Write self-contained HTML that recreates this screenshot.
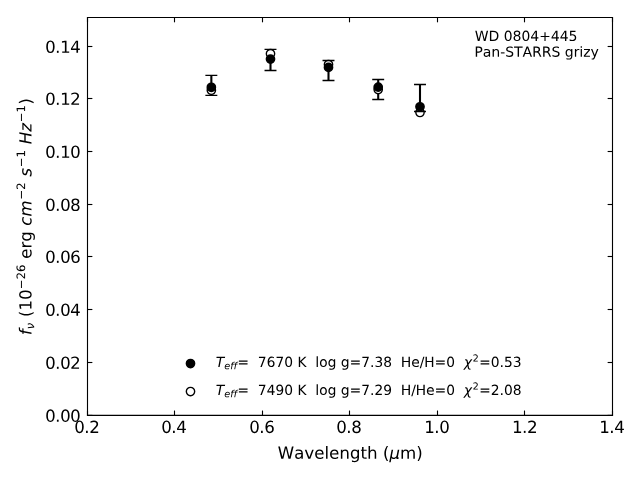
<!DOCTYPE html>
<html lang="en"><head><meta charset="utf-8"><title>WD 0804+445</title>
<style>
html,body{margin:0;padding:0;background:#fff;width:640px;height:480px;overflow:hidden;font-family:"Liberation Sans",sans-serif;}
svg{display:block;position:absolute;left:0;top:0;}
</style></head><body>
<svg width="640" height="480" viewBox="0 0 460.8 345.6" version="1.1" role="img" aria-label="WD 0804+445 Pan-STARRS grizy photometric fit"><desc>WD 0804+445. Pan-STARRS grizy. Y axis: f_nu (10^-26 erg cm^-2 s^-1 Hz^-1), ticks 0.00 0.02 0.04 0.06 0.08 0.10 0.12 0.14. X axis: Wavelength (um), ticks 0.2 0.4 0.6 0.8 1.0 1.2 1.4. Filled circles: T_eff= 7670 K log g=7.38 He/H=0 chi^2=0.53. Open circles: T_eff= 7490 K log g=7.29 H/He=0 chi^2=2.08.</desc><defs><style type="text/css">*{stroke-linejoin: round; stroke-linecap: butt}</style></defs><g id="figure_1"><g id="patch_1"><path d="M 0 345.6 L 460.8 345.6 L 460.8 0 L 0 0 z " style="fill: #ffffff"/></g><g id="axes_1"><g id="patch_2"><path d="M 63 299.088 L 441 299.088 L 441 12.564 L 63 12.564 z " style="fill: #ffffff"/></g><g id="LineCollection_1"><path d="M 152.172 68.688 L 152.172 54.288 " clip-path="url(#p7d434a46ba)" style="fill: none; stroke: #000000; stroke-width: 1.5"/><path d="M 194.76 50.76 L 194.76 35.568 " clip-path="url(#p7d434a46ba)" style="fill: none; stroke: #000000; stroke-width: 1.5"/><path d="M 236.52 57.96 L 236.52 43.56 " clip-path="url(#p7d434a46ba)" style="fill: none; stroke: #000000; stroke-width: 1.5"/><path d="M 272.304 71.64 L 272.304 57.24 " clip-path="url(#p7d434a46ba)" style="fill: none; stroke: #000000; stroke-width: 1.5"/><path d="M 302.4 80.244 L 302.4 60.84 " clip-path="url(#p7d434a46ba)" style="fill: none; stroke: #000000; stroke-width: 1.5"/></g><g id="matplotlib.axis_1"><g id="xtick_1"><g id="line2d_1"><defs><path id="m92da7aff10" d="M 0 0 L 0 -3.5 " style="stroke: #000000; stroke-width: 0.8"/></defs><g><use href="#m92da7aff10" x="63" y="299.088" style="stroke: #000000; stroke-width: 0.8"/></g></g><g id="line2d_2"><defs><path id="m1504cfccaf" d="M 0 0 L 0 3.5 " style="stroke: #000000; stroke-width: 0.8"/></defs><g><use href="#m1504cfccaf" x="63" y="12.564" style="stroke: #000000; stroke-width: 0.8"/></g></g><g id="text_1"><g transform="translate(53.4581 311.7061) scale(0.12000 -0.12000)"><defs><path id="DejaVuSans-30" d="M 2034 4250 Q 1547 4250 1301 3770 Q 1056 3291 1056 2328 Q 1056 1369 1301 889 Q 1547 409 2034 409 Q 2525 409 2770 889 Q 3016 1369 3016 2328 Q 3016 3291 2770 3770 Q 2525 4250 2034 4250 z M 2034 4750 Q 2819 4750 3233 4129 Q 3647 3509 3647 2328 Q 3647 1150 3233 529 Q 2819 -91 2034 -91 Q 1250 -91 836 529 Q 422 1150 422 2328 Q 422 3509 836 4129 Q 1250 4750 2034 4750 z " transform="scale(0.015625)"/><path id="DejaVuSans-2e" d="M 684 794 L 1344 794 L 1344 0 L 684 0 L 684 794 z " transform="scale(0.015625)"/><path id="DejaVuSans-32" d="M 1228 531 L 3431 531 L 3431 0 L 469 0 L 469 531 Q 828 903 1448 1529 Q 2069 2156 2228 2338 Q 2531 2678 2651 2914 Q 2772 3150 2772 3378 Q 2772 3750 2511 3984 Q 2250 4219 1831 4219 Q 1534 4219 1204 4116 Q 875 4013 500 3803 L 500 4441 Q 881 4594 1212 4672 Q 1544 4750 1819 4750 Q 2544 4750 2975 4387 Q 3406 4025 3406 3419 Q 3406 3131 3298 2873 Q 3191 2616 2906 2266 Q 2828 2175 2409 1742 Q 1991 1309 1228 531 z " transform="scale(0.015625)"/></defs><use href="#DejaVuSans-30"/><use href="#DejaVuSans-2e" transform="translate(59.9965 0)"/><use href="#DejaVuSans-32" transform="translate(89.9718 0)"/></g></g></g><g id="xtick_2"><g id="line2d_3"><g><use href="#m92da7aff10" x="125.64" y="299.088" style="stroke: #000000; stroke-width: 0.8"/></g></g><g id="line2d_4"><g><use href="#m1504cfccaf" x="125.64" y="12.564" style="stroke: #000000; stroke-width: 0.8"/></g></g><g id="text_2"><g transform="translate(116.0981 311.7061) scale(0.12000 -0.12000)"><defs><path id="DejaVuSans-34" d="M 2419 4116 L 825 1625 L 2419 1625 L 2419 4116 z M 2253 4666 L 3047 4666 L 3047 1625 L 3713 1625 L 3713 1100 L 3047 1100 L 3047 0 L 2419 0 L 2419 1100 L 313 1100 L 313 1709 L 2253 4666 z " transform="scale(0.015625)"/></defs><use href="#DejaVuSans-30"/><use href="#DejaVuSans-2e" transform="translate(59.9965 0)"/><use href="#DejaVuSans-34" transform="translate(89.9718 0)"/></g></g></g><g id="xtick_3"><g id="line2d_5"><g><use href="#m92da7aff10" x="189" y="299.088" style="stroke: #000000; stroke-width: 0.8"/></g></g><g id="line2d_6"><g><use href="#m1504cfccaf" x="189" y="12.564" style="stroke: #000000; stroke-width: 0.8"/></g></g><g id="text_3"><g transform="translate(179.4581 311.7061) scale(0.12000 -0.12000)"><defs><path id="DejaVuSans-36" d="M 2113 2584 Q 1688 2584 1439 2293 Q 1191 2003 1191 1497 Q 1191 994 1439 701 Q 1688 409 2113 409 Q 2538 409 2786 701 Q 3034 994 3034 1497 Q 3034 2003 2786 2293 Q 2538 2584 2113 2584 z M 3366 4563 L 3366 3988 Q 3128 4100 2886 4159 Q 2644 4219 2406 4219 Q 1781 4219 1451 3797 Q 1122 3375 1075 2522 Q 1259 2794 1537 2939 Q 1816 3084 2150 3084 Q 2853 3084 3261 2657 Q 3669 2231 3669 1497 Q 3669 778 3244 343 Q 2819 -91 2113 -91 Q 1303 -91 875 529 Q 447 1150 447 2328 Q 447 3434 972 4092 Q 1497 4750 2381 4750 Q 2619 4750 2861 4703 Q 3103 4656 3366 4563 z " transform="scale(0.015625)"/></defs><use href="#DejaVuSans-30"/><use href="#DejaVuSans-2e" transform="translate(59.9965 0)"/><use href="#DejaVuSans-36" transform="translate(89.9718 0)"/></g></g></g><g id="xtick_4"><g id="line2d_7"><g><use href="#m92da7aff10" x="251.64" y="299.088" style="stroke: #000000; stroke-width: 0.8"/></g></g><g id="line2d_8"><g><use href="#m1504cfccaf" x="251.64" y="12.564" style="stroke: #000000; stroke-width: 0.8"/></g></g><g id="text_4"><g transform="translate(242.0981 311.7061) scale(0.12000 -0.12000)"><defs><path id="DejaVuSans-38" d="M 2034 2216 Q 1584 2216 1326 1975 Q 1069 1734 1069 1313 Q 1069 891 1326 650 Q 1584 409 2034 409 Q 2484 409 2743 651 Q 3003 894 3003 1313 Q 3003 1734 2745 1975 Q 2488 2216 2034 2216 z M 1403 2484 Q 997 2584 770 2862 Q 544 3141 544 3541 Q 544 4100 942 4425 Q 1341 4750 2034 4750 Q 2731 4750 3128 4425 Q 3525 4100 3525 3541 Q 3525 3141 3298 2862 Q 3072 2584 2669 2484 Q 3125 2378 3379 2068 Q 3634 1759 3634 1313 Q 3634 634 3220 271 Q 2806 -91 2034 -91 Q 1263 -91 848 271 Q 434 634 434 1313 Q 434 1759 690 2068 Q 947 2378 1403 2484 z M 1172 3481 Q 1172 3119 1398 2916 Q 1625 2713 2034 2713 Q 2441 2713 2670 2916 Q 2900 3119 2900 3481 Q 2900 3844 2670 4047 Q 2441 4250 2034 4250 Q 1625 4250 1398 4047 Q 1172 3844 1172 3481 z " transform="scale(0.015625)"/></defs><use href="#DejaVuSans-30"/><use href="#DejaVuSans-2e" transform="translate(59.9965 0)"/><use href="#DejaVuSans-38" transform="translate(89.9718 0)"/></g></g></g><g id="xtick_5"><g id="line2d_9"><g><use href="#m92da7aff10" x="315" y="299.088" style="stroke: #000000; stroke-width: 0.8"/></g></g><g id="line2d_10"><g><use href="#m1504cfccaf" x="315" y="12.564" style="stroke: #000000; stroke-width: 0.8"/></g></g><g id="text_5"><g transform="translate(305.4581 311.7061) scale(0.12000 -0.12000)"><defs><path id="DejaVuSans-31" d="M 794 531 L 1825 531 L 1825 4091 L 703 3866 L 703 4441 L 1819 4666 L 2450 4666 L 2450 531 L 3481 531 L 3481 0 L 794 0 L 794 531 z " transform="scale(0.015625)"/></defs><use href="#DejaVuSans-31"/><use href="#DejaVuSans-2e" transform="translate(59.9965 0)"/><use href="#DejaVuSans-30" transform="translate(89.9718 0)"/></g></g></g><g id="xtick_6"><g id="line2d_11"><g><use href="#m92da7aff10" x="377.64" y="299.088" style="stroke: #000000; stroke-width: 0.8"/></g></g><g id="line2d_12"><g><use href="#m1504cfccaf" x="377.64" y="12.564" style="stroke: #000000; stroke-width: 0.8"/></g></g><g id="text_6"><g transform="translate(368.6741 311.7061) scale(0.12000 -0.12000)"><use href="#DejaVuSans-31"/><use href="#DejaVuSans-2e" transform="translate(59.9965 0)"/><use href="#DejaVuSans-32" transform="translate(89.9718 0)"/></g></g></g><g id="xtick_7"><g id="line2d_13"><g><use href="#m92da7aff10" x="441" y="299.088" style="stroke: #000000; stroke-width: 0.8"/></g></g><g id="line2d_14"><g><use href="#m1504cfccaf" x="441" y="12.564" style="stroke: #000000; stroke-width: 0.8"/></g></g><g id="text_7"><g transform="translate(431.4581 311.7061) scale(0.12000 -0.12000)"><use href="#DejaVuSans-31"/><use href="#DejaVuSans-2e" transform="translate(59.9965 0)"/><use href="#DejaVuSans-34" transform="translate(89.9718 0)"/></g></g></g></g><g id="matplotlib.axis_2"><g id="ytick_1"><g id="line2d_15"><defs><path id="m33c4ce201d" d="M 0 0 L 3.5 0 " style="stroke: #000000; stroke-width: 0.8"/></defs><g><use href="#m33c4ce201d" x="63" y="299.088" style="stroke: #000000; stroke-width: 0.8"/></g></g><g id="line2d_16"><defs><path id="m5d545ce8f8" d="M 0 0 L -3.5 0 " style="stroke: #000000; stroke-width: 0.8"/></defs><g><use href="#m5d545ce8f8" x="441" y="299.088" style="stroke: #000000; stroke-width: 0.8"/></g></g><g id="text_8"><g transform="translate(32.4933 303.6471) scale(0.12000 -0.12000)"><use href="#DejaVuSans-30"/><use href="#DejaVuSans-2e" transform="translate(59.9965 0)"/><use href="#DejaVuSans-30" transform="translate(89.9718 0)"/><use href="#DejaVuSans-30" transform="translate(149.9683 0)"/></g></g></g><g id="ytick_2"><g id="line2d_17"><g><use href="#m33c4ce201d" x="63" y="261" style="stroke: #000000; stroke-width: 0.8"/></g></g><g id="line2d_18"><g><use href="#m5d545ce8f8" x="441" y="261" style="stroke: #000000; stroke-width: 0.8"/></g></g><g id="text_9"><g transform="translate(32.4933 265.5591) scale(0.12000 -0.12000)"><use href="#DejaVuSans-30"/><use href="#DejaVuSans-2e" transform="translate(59.9965 0)"/><use href="#DejaVuSans-30" transform="translate(89.9718 0)"/><use href="#DejaVuSans-32" transform="translate(149.9683 0)"/></g></g></g><g id="ytick_3"><g id="line2d_19"><g><use href="#m33c4ce201d" x="63" y="222.84" style="stroke: #000000; stroke-width: 0.8"/></g></g><g id="line2d_20"><g><use href="#m5d545ce8f8" x="441" y="222.84" style="stroke: #000000; stroke-width: 0.8"/></g></g><g id="text_10"><g transform="translate(32.4933 227.3991) scale(0.12000 -0.12000)"><use href="#DejaVuSans-30"/><use href="#DejaVuSans-2e" transform="translate(59.9965 0)"/><use href="#DejaVuSans-30" transform="translate(89.9718 0)"/><use href="#DejaVuSans-34" transform="translate(149.9683 0)"/></g></g></g><g id="ytick_4"><g id="line2d_21"><g><use href="#m33c4ce201d" x="63" y="184.68" style="stroke: #000000; stroke-width: 0.8"/></g></g><g id="line2d_22"><g><use href="#m5d545ce8f8" x="441" y="184.68" style="stroke: #000000; stroke-width: 0.8"/></g></g><g id="text_11"><g transform="translate(32.4933 189.2391) scale(0.12000 -0.12000)"><use href="#DejaVuSans-30"/><use href="#DejaVuSans-2e" transform="translate(59.9965 0)"/><use href="#DejaVuSans-30" transform="translate(89.9718 0)"/><use href="#DejaVuSans-36" transform="translate(149.9683 0)"/></g></g></g><g id="ytick_5"><g id="line2d_23"><g><use href="#m33c4ce201d" x="63" y="147.24" style="stroke: #000000; stroke-width: 0.8"/></g></g><g id="line2d_24"><g><use href="#m5d545ce8f8" x="441" y="147.24" style="stroke: #000000; stroke-width: 0.8"/></g></g><g id="text_12"><g transform="translate(32.4933 151.7991) scale(0.12000 -0.12000)"><use href="#DejaVuSans-30"/><use href="#DejaVuSans-2e" transform="translate(59.9965 0)"/><use href="#DejaVuSans-30" transform="translate(89.9718 0)"/><use href="#DejaVuSans-38" transform="translate(149.9683 0)"/></g></g></g><g id="ytick_6"><g id="line2d_25"><g><use href="#m33c4ce201d" x="63" y="109.08" style="stroke: #000000; stroke-width: 0.8"/></g></g><g id="line2d_26"><g><use href="#m5d545ce8f8" x="441" y="109.08" style="stroke: #000000; stroke-width: 0.8"/></g></g><g id="text_13"><g transform="translate(32.4933 113.6391) scale(0.12000 -0.12000)"><use href="#DejaVuSans-30"/><use href="#DejaVuSans-2e" transform="translate(59.9965 0)"/><use href="#DejaVuSans-31" transform="translate(89.9718 0)"/><use href="#DejaVuSans-30" transform="translate(149.9683 0)"/></g></g></g><g id="ytick_7"><g id="line2d_27"><g><use href="#m33c4ce201d" x="63" y="70.92" style="stroke: #000000; stroke-width: 0.8"/></g></g><g id="line2d_28"><g><use href="#m5d545ce8f8" x="441" y="70.92" style="stroke: #000000; stroke-width: 0.8"/></g></g><g id="text_14"><g transform="translate(32.4933 75.4791) scale(0.12000 -0.12000)"><use href="#DejaVuSans-30"/><use href="#DejaVuSans-2e" transform="translate(59.9965 0)"/><use href="#DejaVuSans-31" transform="translate(89.9718 0)"/><use href="#DejaVuSans-32" transform="translate(149.9683 0)"/></g></g></g><g id="ytick_8"><g id="line2d_29"><g><use href="#m33c4ce201d" x="63" y="33.48" style="stroke: #000000; stroke-width: 0.8"/></g></g><g id="line2d_30"><g><use href="#m5d545ce8f8" x="441" y="33.48" style="stroke: #000000; stroke-width: 0.8"/></g></g><g id="text_15"><g transform="translate(32.4933 38.0391) scale(0.12000 -0.12000)"><use href="#DejaVuSans-30"/><use href="#DejaVuSans-2e" transform="translate(59.9965 0)"/><use href="#DejaVuSans-31" transform="translate(89.9718 0)"/><use href="#DejaVuSans-34" transform="translate(149.9683 0)"/></g></g></g></g><g id="line2d_31"><defs><path id="md2aca7f32a" d="M 0 3 C 0.795609 3 1.55874 2.683901 2.12132 2.12132 C 2.683901 1.55874 3 0.795609 3 0 C 3 -0.795609 2.683901 -1.55874 2.12132 -2.12132 C 1.55874 -2.683901 0.795609 -3 0 -3 C -0.795609 -3 -1.55874 -2.683901 -2.12132 -2.12132 C -2.683901 -1.55874 -3 -0.795609 -3 0 C -3 0.795609 -2.683901 1.55874 -2.12132 2.12132 C -1.55874 2.683901 -0.795609 3 0 3 z " style="stroke: #000000"/></defs><g><use href="#md2aca7f32a" x="152.172" y="64.944" style="fill: #ffffff; stroke: #000000"/><use href="#md2aca7f32a" x="194.76" y="38.664" style="fill: #ffffff; stroke: #000000"/><use href="#md2aca7f32a" x="236.52" y="46.44" style="fill: #ffffff; stroke: #000000"/><use href="#md2aca7f32a" x="272.304" y="64.512" style="fill: #ffffff; stroke: #000000"/><use href="#md2aca7f32a" x="302.4" y="81" style="fill: #ffffff; stroke: #000000"/></g></g><g id="line2d_32"><defs><path id="m0ec3d353d7" d="M 0 3 C 0.795609 3 1.55874 2.683901 2.12132 2.12132 C 2.683901 1.55874 3 0.795609 3 0 C 3 -0.795609 2.683901 -1.55874 2.12132 -2.12132 C 1.55874 -2.683901 0.795609 -3 0 -3 C -0.795609 -3 -1.55874 -2.683901 -2.12132 -2.12132 C -2.683901 -1.55874 -3 -0.795609 -3 0 C -3 0.795609 -2.683901 1.55874 -2.12132 2.12132 C -1.55874 2.683901 -0.795609 3 0 3 z " style="stroke: #000000"/></defs><g clip-path="url(#p7d434a46ba)"><use href="#m0ec3d353d7" x="137.16" y="261.756" style="stroke: #000000"/></g></g><g id="line2d_33"><g clip-path="url(#p7d434a46ba)"><use href="#md2aca7f32a" x="137.16" y="281.916" style="fill: #ffffff; stroke: #000000"/></g></g><g id="patch_3"><path d="M 63 299.088 L 63 12.564 " style="fill: none; stroke: #000000; stroke-width: 0.8; stroke-linejoin: miter; stroke-linecap: square"/></g><g id="patch_4"><path d="M 441 299.088 L 441 12.564 " style="fill: none; stroke: #000000; stroke-width: 0.8; stroke-linejoin: miter; stroke-linecap: square"/></g><g id="patch_5"><path d="M 63 299.088 L 441 299.088 " style="fill: none; stroke: #000000; stroke-width: 0.8; stroke-linejoin: miter; stroke-linecap: square"/></g><g id="patch_6"><path d="M 63 12.564 L 441 12.564 " style="fill: none; stroke: #000000; stroke-width: 0.8; stroke-linejoin: miter; stroke-linecap: square"/></g><g id="line2d_34"><g><use href="#m0ec3d353d7" x="152.172" y="62.856" style="stroke: #000000"/><use href="#m0ec3d353d7" x="194.76" y="42.552" style="stroke: #000000"/><use href="#m0ec3d353d7" x="236.52" y="48.528" style="stroke: #000000"/><use href="#m0ec3d353d7" x="272.304" y="62.712" style="stroke: #000000"/><use href="#m0ec3d353d7" x="302.4" y="76.896" style="stroke: #000000"/></g></g><g id="text_16"><g transform="translate(155.3760 264.2400) scale(0.09967 -0.10000)"><defs><path id="DejaVuSans-Oblique-54" d="M 378 4666 L 4325 4666 L 4225 4134 L 2559 4134 L 1759 0 L 1125 0 L 1925 4134 L 275 4134 L 378 4666 z " transform="scale(0.015625)"/><path id="DejaVuSans-Oblique-65" d="M 3078 2063 Q 3088 2113 3092 2166 Q 3097 2219 3097 2272 Q 3097 2653 2873 2875 Q 2650 3097 2266 3097 Q 1838 3097 1509 2826 Q 1181 2556 1013 2059 L 3078 2063 z M 3578 1613 L 903 1613 Q 884 1494 878 1425 Q 872 1356 872 1306 Q 872 872 1139 634 Q 1406 397 1894 397 Q 2269 397 2603 481 Q 2938 566 3225 728 L 3116 159 Q 2806 34 2476 -28 Q 2147 -91 1806 -91 Q 1078 -91 686 257 Q 294 606 294 1247 Q 294 1794 489 2264 Q 684 2734 1063 3103 Q 1306 3334 1642 3459 Q 1978 3584 2356 3584 Q 2950 3584 3301 3228 Q 3653 2872 3653 2272 Q 3653 2128 3634 1964 Q 3616 1800 3578 1613 z " transform="scale(0.015625)"/><path id="DejaVuSans-Oblique-66" d="M 3059 4863 L 2969 4384 L 2419 4384 Q 2106 4384 1964 4261 Q 1822 4138 1753 3809 L 1691 3500 L 2638 3500 L 2553 3053 L 1606 3053 L 1013 0 L 434 0 L 1031 3053 L 481 3053 L 563 3500 L 1113 3500 L 1159 3744 Q 1278 4363 1576 4613 Q 1875 4863 2516 4863 L 3059 4863 z " transform="scale(0.015625)"/><path id="DejaVuSans-3d" d="M 678 2906 L 4684 2906 L 4684 2381 L 678 2381 L 678 2906 z M 678 1631 L 4684 1631 L 4684 1100 L 678 1100 L 678 1631 z " transform="scale(0.015625)"/><path id="DejaVuSans-20" transform="scale(0.015625)"/><path id="DejaVuSans-37" d="M 525 4666 L 3525 4666 L 3525 4397 L 1831 0 L 1172 0 L 2766 4134 L 525 4134 L 525 4666 z " transform="scale(0.015625)"/><path id="DejaVuSans-4b" d="M 628 4666 L 1259 4666 L 1259 2694 L 3353 4666 L 4166 4666 L 1850 2491 L 4331 0 L 3500 0 L 1259 2247 L 1259 0 L 628 0 L 628 4666 z " transform="scale(0.015625)"/><path id="DejaVuSans-6c" d="M 603 4863 L 1178 4863 L 1178 0 L 603 0 L 603 4863 z " transform="scale(0.015625)"/><path id="DejaVuSans-6f" d="M 1959 3097 Q 1497 3097 1228 2736 Q 959 2375 959 1747 Q 959 1119 1226 758 Q 1494 397 1959 397 Q 2419 397 2687 759 Q 2956 1122 2956 1747 Q 2956 2369 2687 2733 Q 2419 3097 1959 3097 z M 1959 3584 Q 2709 3584 3137 3096 Q 3566 2609 3566 1747 Q 3566 888 3137 398 Q 2709 -91 1959 -91 Q 1206 -91 779 398 Q 353 888 353 1747 Q 353 2609 779 3096 Q 1206 3584 1959 3584 z " transform="scale(0.015625)"/><path id="DejaVuSans-67" d="M 2906 1791 Q 2906 2416 2648 2759 Q 2391 3103 1925 3103 Q 1463 3103 1205 2759 Q 947 2416 947 1791 Q 947 1169 1205 825 Q 1463 481 1925 481 Q 2391 481 2648 825 Q 2906 1169 2906 1791 z M 3481 434 Q 3481 -459 3084 -895 Q 2688 -1331 1869 -1331 Q 1566 -1331 1297 -1286 Q 1028 -1241 775 -1147 L 775 -588 Q 1028 -725 1275 -790 Q 1522 -856 1778 -856 Q 2344 -856 2625 -561 Q 2906 -266 2906 331 L 2906 616 Q 2728 306 2450 153 Q 2172 0 1784 0 Q 1141 0 747 490 Q 353 981 353 1791 Q 353 2603 747 3093 Q 1141 3584 1784 3584 Q 2172 3584 2450 3431 Q 2728 3278 2906 2969 L 2906 3500 L 3481 3500 L 3481 434 z " transform="scale(0.015625)"/><path id="DejaVuSans-33" d="M 2597 2516 Q 3050 2419 3304 2112 Q 3559 1806 3559 1356 Q 3559 666 3084 287 Q 2609 -91 1734 -91 Q 1441 -91 1130 -33 Q 819 25 488 141 L 488 750 Q 750 597 1062 519 Q 1375 441 1716 441 Q 2309 441 2620 675 Q 2931 909 2931 1356 Q 2931 1769 2642 2001 Q 2353 2234 1838 2234 L 1294 2234 L 1294 2753 L 1863 2753 Q 2328 2753 2575 2939 Q 2822 3125 2822 3475 Q 2822 3834 2567 4026 Q 2313 4219 1838 4219 Q 1578 4219 1281 4162 Q 984 4106 628 3988 L 628 4550 Q 988 4650 1302 4700 Q 1616 4750 1894 4750 Q 2613 4750 3031 4423 Q 3450 4097 3450 3541 Q 3450 3153 3228 2886 Q 3006 2619 2597 2516 z " transform="scale(0.015625)"/><path id="DejaVuSans-48" d="M 628 4666 L 1259 4666 L 1259 2753 L 3553 2753 L 3553 4666 L 4184 4666 L 4184 0 L 3553 0 L 3553 2222 L 1259 2222 L 1259 0 L 628 0 L 628 4666 z " transform="scale(0.015625)"/><path id="DejaVuSans-65" d="M 3597 1894 L 3597 1613 L 953 1613 Q 991 1019 1311 708 Q 1631 397 2203 397 Q 2534 397 2845 478 Q 3156 559 3463 722 L 3463 178 Q 3153 47 2828 -22 Q 2503 -91 2169 -91 Q 1331 -91 842 396 Q 353 884 353 1716 Q 353 2575 817 3079 Q 1281 3584 2069 3584 Q 2775 3584 3186 3129 Q 3597 2675 3597 1894 z M 3022 2063 Q 3016 2534 2758 2815 Q 2500 3097 2075 3097 Q 1594 3097 1305 2825 Q 1016 2553 972 2059 L 3022 2063 z " transform="scale(0.015625)"/><path id="DejaVuSans-2f" d="M 1625 4666 L 2156 4666 L 531 -594 L 0 -594 L 1625 4666 z " transform="scale(0.015625)"/><path id="DejaVuSans-Oblique-3c7" d="M 1922 -781 L 1691 416 L 394 -1334 L -284 -1334 L 1553 1141 L 1269 2613 Q 1194 3006 713 3006 L 559 3006 L 653 3500 L 872 3494 Q 1675 3472 1775 2950 L 2006 1753 L 3303 3503 L 3981 3503 L 2144 1028 L 2428 -444 Q 2503 -838 2984 -838 L 3138 -838 L 3044 -1331 L 2825 -1325 Q 2022 -1303 1922 -781 z " transform="scale(0.015625)"/><path id="DejaVuSans-35" d="M 691 4666 L 3169 4666 L 3169 4134 L 1269 4134 L 1269 2991 Q 1406 3038 1543 3061 Q 1681 3084 1819 3084 Q 2600 3084 3056 2656 Q 3513 2228 3513 1497 Q 3513 744 3044 326 Q 2575 -91 1722 -91 Q 1428 -91 1123 -41 Q 819 9 494 109 L 494 744 Q 775 591 1075 516 Q 1375 441 1709 441 Q 2250 441 2565 725 Q 2881 1009 2881 1497 Q 2881 1984 2565 2268 Q 2250 2553 1709 2553 Q 1456 2553 1204 2497 Q 953 2441 691 2322 L 691 4666 z " transform="scale(0.015625)"/></defs><use href="#DejaVuSans-Oblique-54" transform="translate(0 0.765625)"/><use href="#DejaVuSans-Oblique-65" transform="translate(61.083984 -15.640625) scale(0.7)"/><use href="#DejaVuSans-Oblique-66" transform="translate(104.150391 -15.640625) scale(0.7)"/><use href="#DejaVuSans-Oblique-66" transform="translate(128.793945 -15.640625) scale(0.7)"/><use href="#DejaVuSans-3d" transform="translate(156.171875 0.765625)"/><use href="#DejaVuSans-20" transform="translate(239.960938 0.765625)"/><use href="#DejaVuSans-20" transform="translate(271.748047 0.765625)"/><use href="#DejaVuSans-37" transform="translate(303.535156 0.765625)"/><use href="#DejaVuSans-36" transform="translate(367.158203 0.765625)"/><use href="#DejaVuSans-37" transform="translate(430.78125 0.765625)"/><use href="#DejaVuSans-30" transform="translate(494.404297 0.765625)"/><use href="#DejaVuSans-20" transform="translate(558.027344 0.765625)"/><use href="#DejaVuSans-4b" transform="translate(589.814453 0.765625)"/><use href="#DejaVuSans-20" transform="translate(655.390625 0.765625)"/><use href="#DejaVuSans-20" transform="translate(687.177734 0.765625)"/><use href="#DejaVuSans-6c" transform="translate(718.964844 0.765625)"/><use href="#DejaVuSans-6f" transform="translate(746.748047 0.765625)"/><use href="#DejaVuSans-67" transform="translate(807.929688 0.765625)"/><use href="#DejaVuSans-20" transform="translate(871.40625 0.765625)"/><use href="#DejaVuSans-67" transform="translate(903.193359 0.765625)"/><use href="#DejaVuSans-3d" transform="translate(966.669922 0.765625)"/><use href="#DejaVuSans-37" transform="translate(1050.458984 0.765625)"/><use href="#DejaVuSans-2e" transform="translate(1114.082031 0.765625)"/><use href="#DejaVuSans-33" transform="translate(1145.869141 0.765625)"/><use href="#DejaVuSans-38" transform="translate(1209.492188 0.765625)"/><use href="#DejaVuSans-20" transform="translate(1273.115234 0.765625)"/><use href="#DejaVuSans-20" transform="translate(1304.902344 0.765625)"/><use href="#DejaVuSans-48" transform="translate(1336.689453 0.765625)"/><use href="#DejaVuSans-65" transform="translate(1411.884766 0.765625)"/><use href="#DejaVuSans-2f" transform="translate(1473.408203 0.765625)"/><use href="#DejaVuSans-48" transform="translate(1505.349609 0.765625)"/><use href="#DejaVuSans-3d" transform="translate(1580.544922 0.765625)"/><use href="#DejaVuSans-30" transform="translate(1664.333984 0.765625)"/><use href="#DejaVuSans-20" transform="translate(1727.957031 0.765625)"/><use href="#DejaVuSans-20" transform="translate(1759.744141 0.765625)"/><use href="#DejaVuSans-Oblique-3c7" transform="translate(1791.53125 0.765625)"/><use href="#DejaVuSans-32" transform="translate(1855.183646 39.046875) scale(0.7)"/><use href="#DejaVuSans-3d" transform="translate(1902.454154 0.765625)"/><use href="#DejaVuSans-30" transform="translate(1986.243216 0.765625)"/><use href="#DejaVuSans-2e" transform="translate(2049.866263 0.765625)"/><use href="#DejaVuSans-35" transform="translate(2081.653372 0.765625)"/><use href="#DejaVuSans-33" transform="translate(2145.276419 0.765625)"/></g></g><g id="text_17"><g transform="translate(155.3760 284.4000) scale(0.09967 -0.10000)"><defs><path id="DejaVuSans-39" d="M 703 97 L 703 672 Q 941 559 1184 500 Q 1428 441 1663 441 Q 2288 441 2617 861 Q 2947 1281 2994 2138 Q 2813 1869 2534 1725 Q 2256 1581 1919 1581 Q 1219 1581 811 2004 Q 403 2428 403 3163 Q 403 3881 828 4315 Q 1253 4750 1959 4750 Q 2769 4750 3195 4129 Q 3622 3509 3622 2328 Q 3622 1225 3098 567 Q 2575 -91 1691 -91 Q 1453 -91 1209 -44 Q 966 3 703 97 z M 1959 2075 Q 2384 2075 2632 2365 Q 2881 2656 2881 3163 Q 2881 3666 2632 3958 Q 2384 4250 1959 4250 Q 1534 4250 1286 3958 Q 1038 3666 1038 3163 Q 1038 2656 1286 2365 Q 1534 2075 1959 2075 z " transform="scale(0.015625)"/></defs><use href="#DejaVuSans-Oblique-54" transform="translate(0.0000 0.765625)"/><use href="#DejaVuSans-Oblique-65" transform="translate(61.0840 -15.640625) scale(0.7)"/><use href="#DejaVuSans-Oblique-66" transform="translate(104.1504 -15.640625) scale(0.7)"/><use href="#DejaVuSans-Oblique-66" transform="translate(128.7939 -15.640625) scale(0.7)"/><use href="#DejaVuSans-3d" transform="translate(156.1719 0.765625)"/><use href="#DejaVuSans-20" transform="translate(239.9609 0.765625)"/><use href="#DejaVuSans-20" transform="translate(271.7480 0.765625)"/><use href="#DejaVuSans-37" transform="translate(303.5352 0.765625)"/><use href="#DejaVuSans-34" transform="translate(367.1582 0.765625)"/><use href="#DejaVuSans-39" transform="translate(430.7812 0.765625)"/><use href="#DejaVuSans-30" transform="translate(494.4043 0.765625)"/><use href="#DejaVuSans-20" transform="translate(558.0273 0.765625)"/><use href="#DejaVuSans-4b" transform="translate(589.8145 0.765625)"/><use href="#DejaVuSans-20" transform="translate(655.3906 0.765625)"/><use href="#DejaVuSans-20" transform="translate(687.1777 0.765625)"/><use href="#DejaVuSans-6c" transform="translate(718.9648 0.765625)"/><use href="#DejaVuSans-6f" transform="translate(746.7480 0.765625)"/><use href="#DejaVuSans-67" transform="translate(807.9297 0.765625)"/><use href="#DejaVuSans-20" transform="translate(871.4062 0.765625)"/><use href="#DejaVuSans-67" transform="translate(903.1934 0.765625)"/><use href="#DejaVuSans-3d" transform="translate(966.6699 0.765625)"/><use href="#DejaVuSans-37" transform="translate(1050.4590 0.765625)"/><use href="#DejaVuSans-2e" transform="translate(1114.0820 0.765625)"/><use href="#DejaVuSans-32" transform="translate(1145.8691 0.765625)"/><use href="#DejaVuSans-39" transform="translate(1209.5422 0.765625)"/><use href="#DejaVuSans-20" transform="translate(1273.1652 0.765625)"/><use href="#DejaVuSans-20" transform="translate(1304.9523 0.765625)"/><use href="#DejaVuSans-48" transform="translate(1336.7395 0.765625)"/><use href="#DejaVuSans-2f" transform="translate(1411.9348 0.765625)"/><use href="#DejaVuSans-48" transform="translate(1443.8762 0.765625)"/><use href="#DejaVuSans-65" transform="translate(1519.0715 0.765625)"/><use href="#DejaVuSans-3d" transform="translate(1580.5949 0.765625)"/><use href="#DejaVuSans-30" transform="translate(1664.3840 0.765625)"/><use href="#DejaVuSans-20" transform="translate(1728.0070 0.765625)"/><use href="#DejaVuSans-20" transform="translate(1759.7941 0.765625)"/><use href="#DejaVuSans-Oblique-3c7" transform="translate(1791.5812 0.765625)"/><use href="#DejaVuSans-32" transform="translate(1855.2336 39.046875) scale(0.7)"/><use href="#DejaVuSans-3d" transform="translate(1902.5042 0.765625)"/><use href="#DejaVuSans-32" transform="translate(1986.2932 0.765625)"/><use href="#DejaVuSans-2e" transform="translate(2049.9163 0.765625)"/><use href="#DejaVuSans-30" transform="translate(2081.7034 0.765625)"/><use href="#DejaVuSans-38" transform="translate(2145.3264 0.765625)"/></g></g><g id="text_18"><g transform="translate(341.8560 29.4480) scale(0.10030 -0.10000)"><defs><path id="DejaVuSans-57" d="M 213 4666 L 850 4666 L 1831 722 L 2809 4666 L 3519 4666 L 4500 722 L 5478 4666 L 6119 4666 L 4947 0 L 4153 0 L 3169 4050 L 2175 0 L 1381 0 L 213 4666 z " transform="scale(0.015625)"/><path id="DejaVuSans-44" d="M 1259 4147 L 1259 519 L 2022 519 Q 2988 519 3436 956 Q 3884 1394 3884 2338 Q 3884 3275 3436 3711 Q 2988 4147 2022 4147 L 1259 4147 z M 628 4666 L 1925 4666 Q 3281 4666 3915 4102 Q 4550 3538 4550 2338 Q 4550 1131 3912 565 Q 3275 0 1925 0 L 628 0 L 628 4666 z " transform="scale(0.015625)"/><path id="DejaVuSans-2b" d="M 2944 4013 L 2944 2272 L 4684 2272 L 4684 1741 L 2944 1741 L 2944 0 L 2419 0 L 2419 1741 L 678 1741 L 678 2272 L 2419 2272 L 2419 4013 L 2944 4013 z " transform="scale(0.015625)"/></defs><use href="#DejaVuSans-57"/><use href="#DejaVuSans-44" transform="translate(98.876953 0)"/><use href="#DejaVuSans-20" transform="translate(175.878906 0)"/><use href="#DejaVuSans-30" transform="translate(207.666016 0)"/><use href="#DejaVuSans-38" transform="translate(271.289062 0)"/><use href="#DejaVuSans-30" transform="translate(334.912109 0)"/><use href="#DejaVuSans-34" transform="translate(398.535156 0)"/><use href="#DejaVuSans-2b" transform="translate(462.158203 0)"/><use href="#DejaVuSans-34" transform="translate(545.947266 0)"/><use href="#DejaVuSans-34" transform="translate(609.570312 0)"/><use href="#DejaVuSans-35" transform="translate(673.193359 0)"/></g></g><g id="text_19"><g transform="translate(341.5680 40.8240) scale(0.10040 -0.10000)"><defs><path id="DejaVuSans-50" d="M 1259 4147 L 1259 2394 L 2053 2394 Q 2494 2394 2734 2622 Q 2975 2850 2975 3272 Q 2975 3691 2734 3919 Q 2494 4147 2053 4147 L 1259 4147 z M 628 4666 L 2053 4666 Q 2838 4666 3239 4311 Q 3641 3956 3641 3272 Q 3641 2581 3239 2228 Q 2838 1875 2053 1875 L 1259 1875 L 1259 0 L 628 0 L 628 4666 z " transform="scale(0.015625)"/><path id="DejaVuSans-61" d="M 2194 1759 Q 1497 1759 1228 1600 Q 959 1441 959 1056 Q 959 750 1161 570 Q 1363 391 1709 391 Q 2188 391 2477 730 Q 2766 1069 2766 1631 L 2766 1759 L 2194 1759 z M 3341 1997 L 3341 0 L 2766 0 L 2766 531 Q 2569 213 2275 61 Q 1981 -91 1556 -91 Q 1019 -91 701 211 Q 384 513 384 1019 Q 384 1609 779 1909 Q 1175 2209 1959 2209 L 2766 2209 L 2766 2266 Q 2766 2663 2505 2880 Q 2244 3097 1772 3097 Q 1472 3097 1187 3025 Q 903 2953 641 2809 L 641 3341 Q 956 3463 1253 3523 Q 1550 3584 1831 3584 Q 2591 3584 2966 3190 Q 3341 2797 3341 1997 z " transform="scale(0.015625)"/><path id="DejaVuSans-6e" d="M 3513 2113 L 3513 0 L 2938 0 L 2938 2094 Q 2938 2591 2744 2837 Q 2550 3084 2163 3084 Q 1697 3084 1428 2787 Q 1159 2491 1159 1978 L 1159 0 L 581 0 L 581 3500 L 1159 3500 L 1159 2956 Q 1366 3272 1645 3428 Q 1925 3584 2291 3584 Q 2894 3584 3203 3211 Q 3513 2838 3513 2113 z " transform="scale(0.015625)"/><path id="DejaVuSans-2d" d="M 313 2009 L 1997 2009 L 1997 1497 L 313 1497 L 313 2009 z " transform="scale(0.015625)"/><path id="DejaVuSans-53" d="M 3425 4513 L 3425 3897 Q 3066 4069 2747 4153 Q 2428 4238 2131 4238 Q 1616 4238 1336 4038 Q 1056 3838 1056 3469 Q 1056 3159 1242 3001 Q 1428 2844 1947 2747 L 2328 2669 Q 3034 2534 3370 2195 Q 3706 1856 3706 1288 Q 3706 609 3251 259 Q 2797 -91 1919 -91 Q 1588 -91 1214 -16 Q 841 59 441 206 L 441 856 Q 825 641 1194 531 Q 1563 422 1919 422 Q 2459 422 2753 634 Q 3047 847 3047 1241 Q 3047 1584 2836 1778 Q 2625 1972 2144 2069 L 1759 2144 Q 1053 2284 737 2584 Q 422 2884 422 3419 Q 422 4038 858 4394 Q 1294 4750 2059 4750 Q 2388 4750 2728 4690 Q 3069 4631 3425 4513 z " transform="scale(0.015625)"/><path id="DejaVuSans-54" d="M -19 4666 L 3928 4666 L 3928 4134 L 2272 4134 L 2272 0 L 1638 0 L 1638 4134 L -19 4134 L -19 4666 z " transform="scale(0.015625)"/><path id="DejaVuSans-41" d="M 2188 4044 L 1331 1722 L 3047 1722 L 2188 4044 z M 1831 4666 L 2547 4666 L 4325 0 L 3669 0 L 3244 1197 L 1141 1197 L 716 0 L 50 0 L 1831 4666 z " transform="scale(0.015625)"/><path id="DejaVuSans-52" d="M 2841 2188 Q 3044 2119 3236 1894 Q 3428 1669 3622 1275 L 4263 0 L 3584 0 L 2988 1197 Q 2756 1666 2539 1819 Q 2322 1972 1947 1972 L 1259 1972 L 1259 0 L 628 0 L 628 4666 L 2053 4666 Q 2853 4666 3247 4331 Q 3641 3997 3641 3322 Q 3641 2881 3436 2590 Q 3231 2300 2841 2188 z M 1259 4147 L 1259 2491 L 2053 2491 Q 2509 2491 2742 2702 Q 2975 2913 2975 3322 Q 2975 3731 2742 3939 Q 2509 4147 2053 4147 L 1259 4147 z " transform="scale(0.015625)"/><path id="DejaVuSans-72" d="M 2631 2963 Q 2534 3019 2420 3045 Q 2306 3072 2169 3072 Q 1681 3072 1420 2755 Q 1159 2438 1159 1844 L 1159 0 L 581 0 L 581 3500 L 1159 3500 L 1159 2956 Q 1341 3275 1631 3429 Q 1922 3584 2338 3584 Q 2397 3584 2469 3576 Q 2541 3569 2628 3553 L 2631 2963 z " transform="scale(0.015625)"/><path id="DejaVuSans-69" d="M 603 3500 L 1178 3500 L 1178 0 L 603 0 L 603 3500 z M 603 4863 L 1178 4863 L 1178 4134 L 603 4134 L 603 4863 z " transform="scale(0.015625)"/><path id="DejaVuSans-7a" d="M 353 3500 L 3084 3500 L 3084 2975 L 922 459 L 3084 459 L 3084 0 L 275 0 L 275 525 L 2438 3041 L 353 3041 L 353 3500 z " transform="scale(0.015625)"/><path id="DejaVuSans-79" d="M 2059 -325 Q 1816 -950 1584 -1140 Q 1353 -1331 966 -1331 L 506 -1331 L 506 -850 L 844 -850 Q 1081 -850 1212 -737 Q 1344 -625 1503 -206 L 1606 56 L 191 3500 L 800 3500 L 1894 763 L 2988 3500 L 3597 3500 L 2059 -325 z " transform="scale(0.015625)"/></defs><use href="#DejaVuSans-50"/><use href="#DejaVuSans-61" transform="translate(60.3027 0)"/><use href="#DejaVuSans-6e" transform="translate(121.5820 0)"/><use href="#DejaVuSans-2d" transform="translate(184.9609 0)"/><use href="#DejaVuSans-53" transform="translate(221.0449 0)"/><use href="#DejaVuSans-54" transform="translate(284.5215 0)"/><use href="#DejaVuSans-41" transform="translate(345.5555 0)"/><use href="#DejaVuSans-52" transform="translate(413.9637 0)"/><use href="#DejaVuSans-52" transform="translate(483.4461 0)"/><use href="#DejaVuSans-53" transform="translate(552.9285 0)"/><use href="#DejaVuSans-20" transform="translate(616.4051 0)"/><use href="#DejaVuSans-67" transform="translate(648.1922 0)"/><use href="#DejaVuSans-72" transform="translate(711.6688 0)"/><use href="#DejaVuSans-69" transform="translate(752.7820 0)"/><use href="#DejaVuSans-7a" transform="translate(780.5652 0)"/><use href="#DejaVuSans-79" transform="translate(833.0555 0)"/></g></g><g id="line2d_35"><defs><path id="ma2e25c7f9a" d="M 4.3 0 L -4.3 -0 " style="stroke: #000000"/></defs><g clip-path="url(#p7d434a46ba)"><use href="#ma2e25c7f9a" x="152.172" y="54.288" style="stroke: #000000"/><use href="#ma2e25c7f9a" x="194.76" y="35.568" style="stroke: #000000"/><use href="#ma2e25c7f9a" x="236.52" y="43.56" style="stroke: #000000"/><use href="#ma2e25c7f9a" x="272.304" y="57.24" style="stroke: #000000"/><use href="#ma2e25c7f9a" x="302.4" y="60.84" style="stroke: #000000"/></g></g><g id="line2d_36"><g clip-path="url(#p7d434a46ba)"><use href="#ma2e25c7f9a" x="152.172" y="68.688" style="stroke: #000000"/><use href="#ma2e25c7f9a" x="194.76" y="50.76" style="stroke: #000000"/><use href="#ma2e25c7f9a" x="236.52" y="57.96" style="stroke: #000000"/><use href="#ma2e25c7f9a" x="272.304" y="71.64" style="stroke: #000000"/><use href="#ma2e25c7f9a" x="302.4" y="80.244" style="stroke: #000000"/></g></g></g><g id="text_20"><g transform="translate(199.9200 330.3000) scale(0.12000 -0.12000)"><defs><path id="DejaVuSans-76" d="M 191 3500 L 800 3500 L 1894 563 L 2988 3500 L 3597 3500 L 2284 0 L 1503 0 L 191 3500 z " transform="scale(0.015625)"/><path id="DejaVuSans-74" d="M 1172 4494 L 1172 3500 L 2356 3500 L 2356 3053 L 1172 3053 L 1172 1153 Q 1172 725 1289 603 Q 1406 481 1766 481 L 2356 481 L 2356 0 L 1766 0 Q 1100 0 847 248 Q 594 497 594 1153 L 594 3053 L 172 3053 L 172 3500 L 594 3500 L 594 4494 L 1172 4494 z " transform="scale(0.015625)"/><path id="DejaVuSans-68" d="M 3513 2113 L 3513 0 L 2938 0 L 2938 2094 Q 2938 2591 2744 2837 Q 2550 3084 2163 3084 Q 1697 3084 1428 2787 Q 1159 2491 1159 1978 L 1159 0 L 581 0 L 581 4863 L 1159 4863 L 1159 2956 Q 1366 3272 1645 3428 Q 1925 3584 2291 3584 Q 2894 3584 3203 3211 Q 3513 2838 3513 2113 z " transform="scale(0.015625)"/><path id="DejaVuSans-28" d="M 1984 4856 Q 1566 4138 1362 3434 Q 1159 2731 1159 2009 Q 1159 1288 1364 580 Q 1569 -128 1984 -844 L 1484 -844 Q 1016 -109 783 600 Q 550 1309 550 2009 Q 550 2706 781 3412 Q 1013 4119 1484 4856 L 1984 4856 z " transform="scale(0.015625)"/><path id="DejaVuSans-Oblique-3bc" d="M -84 -1331 L 856 3500 L 1434 3500 L 1009 1322 Q 997 1256 987 1175 Q 978 1094 978 1013 Q 978 722 1161 565 Q 1344 409 1684 409 Q 2147 409 2431 671 Q 2716 934 2816 1459 L 3213 3500 L 3788 3500 L 3266 809 Q 3253 750 3248 706 Q 3244 663 3244 628 Q 3244 531 3283 486 Q 3322 441 3406 441 Q 3438 441 3492 456 Q 3547 472 3647 513 L 3559 50 Q 3422 -19 3297 -55 Q 3172 -91 3053 -91 Q 2847 -91 2730 40 Q 2613 172 2613 403 Q 2438 153 2195 31 Q 1953 -91 1625 -91 Q 1334 -91 1117 43 Q 900 178 831 397 L 494 -1331 L -84 -1331 z " transform="scale(0.015625)"/><path id="DejaVuSans-6d" d="M 3328 2828 Q 3544 3216 3844 3400 Q 4144 3584 4550 3584 Q 5097 3584 5394 3201 Q 5691 2819 5691 2113 L 5691 0 L 5113 0 L 5113 2094 Q 5113 2597 4934 2840 Q 4756 3084 4391 3084 Q 3944 3084 3684 2787 Q 3425 2491 3425 1978 L 3425 0 L 2847 0 L 2847 2094 Q 2847 2600 2669 2842 Q 2491 3084 2119 3084 Q 1678 3084 1418 2786 Q 1159 2488 1159 1978 L 1159 0 L 581 0 L 581 3500 L 1159 3500 L 1159 2956 Q 1356 3278 1631 3431 Q 1906 3584 2284 3584 Q 2666 3584 2933 3390 Q 3200 3197 3328 2828 z " transform="scale(0.015625)"/><path id="DejaVuSans-29" d="M 513 4856 L 1013 4856 Q 1481 4119 1714 3412 Q 1947 2706 1947 2009 Q 1947 1309 1714 600 Q 1481 -109 1013 -844 L 513 -844 Q 928 -128 1133 580 Q 1338 1288 1338 2009 Q 1338 2731 1133 3434 Q 928 4138 513 4856 z " transform="scale(0.015625)"/></defs><use href="#DejaVuSans-57" transform="translate(0 0.015625)"/><use href="#DejaVuSans-61" transform="translate(98.876953 0.015625)"/><use href="#DejaVuSans-76" transform="translate(160.15625 0.015625)"/><use href="#DejaVuSans-65" transform="translate(219.335938 0.015625)"/><use href="#DejaVuSans-6c" transform="translate(280.859375 0.015625)"/><use href="#DejaVuSans-65" transform="translate(308.642578 0.015625)"/><use href="#DejaVuSans-6e" transform="translate(370.166016 0.015625)"/><use href="#DejaVuSans-67" transform="translate(433.544922 0.015625)"/><use href="#DejaVuSans-74" transform="translate(497.021484 0.015625)"/><use href="#DejaVuSans-68" transform="translate(536.230469 0.015625)"/><use href="#DejaVuSans-20" transform="translate(599.609375 0.015625)"/><use href="#DejaVuSans-28" transform="translate(631.396484 0.015625)"/><use href="#DejaVuSans-Oblique-3bc" transform="translate(670.410156 0.015625)"/><use href="#DejaVuSans-6d" transform="translate(734.033203 0.015625)"/><use href="#DejaVuSans-29" transform="translate(831.445312 0.015625)"/></g></g><g id="text_21"><g transform="translate(22.7520 241.3320) rotate(-90) scale(0.12000 -0.12000)"><defs><path id="DejaVuSans-Oblique-3bd" d="M 959 0 L 572 3500 L 1191 3500 L 1522 563 Q 1972 950 2391 1488 Q 2706 1891 2788 2241 Q 2825 2406 2809 2719 Q 2794 3091 2544 3500 L 3125 3500 L 3125 3500 Q 3288 3222 3353 2834 Q 3416 2478 3369 2234 Q 3250 1622 2719 1075 Q 2025 363 1572 0 L 959 0 z " transform="scale(0.015625)"/><path id="DejaVuSans-2212" d="M 678 2272 L 4684 2272 L 4684 1741 L 678 1741 L 678 2272 z " transform="scale(0.015625)"/><path id="DejaVuSans-Oblique-63" d="M 3431 3366 L 3316 2797 Q 3109 2947 2876 3022 Q 2644 3097 2394 3097 Q 2119 3097 1870 3000 Q 1622 2903 1453 2725 Q 1184 2453 1037 2087 Q 891 1722 891 1331 Q 891 859 1127 628 Q 1363 397 1844 397 Q 2081 397 2348 469 Q 2616 541 2906 684 L 2797 116 Q 2547 13 2283 -39 Q 2019 -91 1741 -91 Q 1044 -91 669 257 Q 294 606 294 1253 Q 294 1797 489 2255 Q 684 2713 1069 3078 Q 1331 3328 1684 3456 Q 2038 3584 2456 3584 Q 2700 3584 2940 3529 Q 3181 3475 3431 3366 z " transform="scale(0.015625)"/><path id="DejaVuSans-Oblique-6d" d="M 5747 2113 L 5338 0 L 4763 0 L 5166 2094 Q 5191 2228 5203 2325 Q 5216 2422 5216 2491 Q 5216 2772 5059 2928 Q 4903 3084 4622 3084 Q 4203 3084 3875 2770 Q 3547 2456 3450 1953 L 3066 0 L 2491 0 L 2900 2094 Q 2925 2209 2937 2307 Q 2950 2406 2950 2484 Q 2950 2769 2794 2926 Q 2638 3084 2363 3084 Q 1938 3084 1609 2770 Q 1281 2456 1184 1953 L 800 0 L 225 0 L 909 3500 L 1484 3500 L 1375 2956 Q 1609 3263 1923 3423 Q 2238 3584 2597 3584 Q 2978 3584 3223 3384 Q 3469 3184 3519 2828 Q 3781 3197 4126 3390 Q 4472 3584 4856 3584 Q 5306 3584 5551 3325 Q 5797 3066 5797 2591 Q 5797 2488 5784 2364 Q 5772 2241 5747 2113 z " transform="scale(0.015625)"/><path id="DejaVuSans-Oblique-73" d="M 3200 3397 L 3091 2853 Q 2863 2978 2609 3040 Q 2356 3103 2088 3103 Q 1634 3103 1373 2948 Q 1113 2794 1113 2528 Q 1113 2219 1719 2053 Q 1766 2041 1788 2034 L 1972 1978 Q 2547 1819 2739 1644 Q 2931 1469 2931 1166 Q 2931 609 2489 259 Q 2047 -91 1331 -91 Q 1053 -91 747 -37 Q 441 16 72 128 L 184 722 Q 500 559 806 475 Q 1113 391 1394 391 Q 1816 391 2080 572 Q 2344 753 2344 1031 Q 2344 1331 1650 1516 L 1591 1531 L 1394 1581 Q 956 1697 753 1886 Q 550 2075 550 2369 Q 550 2928 970 3256 Q 1391 3584 2113 3584 Q 2397 3584 2667 3537 Q 2938 3491 3200 3397 z " transform="scale(0.015625)"/><path id="DejaVuSans-Oblique-48" d="M 1081 4666 L 1716 4666 L 1344 2753 L 3634 2753 L 4006 4666 L 4641 4666 L 3731 0 L 3097 0 L 3531 2222 L 1241 2222 L 806 0 L 172 0 L 1081 4666 z " transform="scale(0.015625)"/><path id="DejaVuSans-Oblique-7a" d="M 744 3500 L 3475 3500 L 3372 2975 L 738 459 L 2913 459 L 2822 0 L -19 0 L 84 525 L 2719 3041 L 653 3041 L 744 3500 z " transform="scale(0.015625)"/></defs><use href="#DejaVuSans-Oblique-66" transform="translate(0 0.765625)"/><use href="#DejaVuSans-Oblique-3bd" transform="translate(35.205078 -15.640625) scale(0.7)"/><use href="#DejaVuSans-20" transform="translate(77.041016 0.765625)"/><use href="#DejaVuSans-28" transform="translate(108.828125 0.765625)"/><use href="#DejaVuSans-31" transform="translate(147.841797 0.765625)"/><use href="#DejaVuSans-30" transform="translate(211.464844 0.765625)"/><use href="#DejaVuSans-2212" transform="translate(276.044922 39.046875) scale(0.7)"/><use href="#DejaVuSans-32" transform="translate(334.697266 39.046875) scale(0.7)"/><use href="#DejaVuSans-36" transform="translate(379.233398 39.046875) scale(0.7)"/><use href="#DejaVuSans-20" transform="translate(426.503906 0.765625)"/><use href="#DejaVuSans-65" transform="translate(458.291016 0.765625)"/><use href="#DejaVuSans-72" transform="translate(519.814453 0.765625)"/><use href="#DejaVuSans-67" transform="translate(560.927734 0.765625)"/><use href="#DejaVuSans-20" transform="translate(624.404297 0.765625)"/><use href="#DejaVuSans-Oblique-63" transform="translate(656.191406 0.765625)"/><use href="#DejaVuSans-Oblique-6d" transform="translate(711.171875 0.765625)"/><use href="#DejaVuSans-2212" transform="translate(813.23388 39.046875) scale(0.7)"/><use href="#DejaVuSans-32" transform="translate(871.886224 39.046875) scale(0.7)"/><use href="#DejaVuSans-20" transform="translate(919.156732 0.765625)"/><use href="#DejaVuSans-Oblique-73" transform="translate(950.943841 0.765625)"/><use href="#DejaVuSans-2212" transform="translate(1007.693346 39.046875) scale(0.7)"/><use href="#DejaVuSans-31" transform="translate(1066.34569 39.046875) scale(0.7)"/><use href="#DejaVuSans-20" transform="translate(1113.616198 0.765625)"/><use href="#DejaVuSans-Oblique-48" transform="translate(1145.403307 0.765625)"/><use href="#DejaVuSans-Oblique-7a" transform="translate(1220.59862 0.765625)"/><use href="#DejaVuSans-2212" transform="translate(1277.555 39.046875) scale(0.7)"/><use href="#DejaVuSans-31" transform="translate(1336.207344 39.046875) scale(0.7)"/><use href="#DejaVuSans-29" transform="translate(1383.477852 0.765625)"/></g></g></g><defs><clipPath id="p7d434a46ba"><rect x="63" y="12.564" width="378" height="286.524"/></clipPath></defs></svg> 
</body></html>
